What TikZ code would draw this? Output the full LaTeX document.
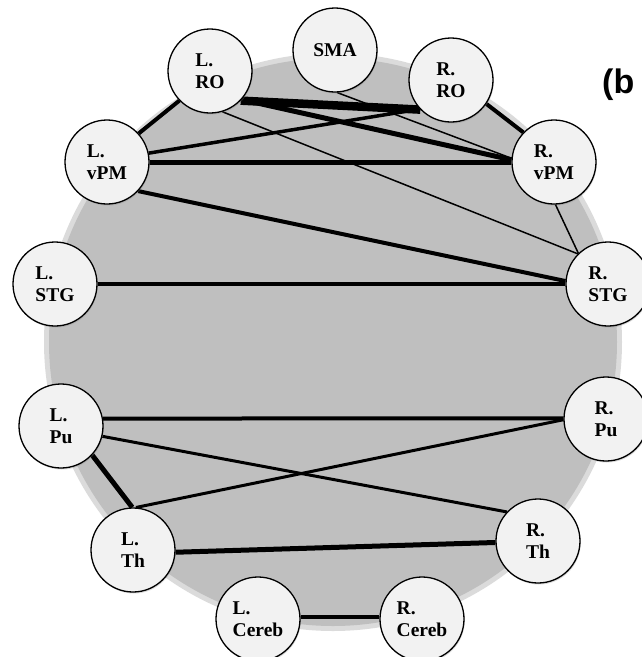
\documentclass[tikz,border=0pt]{standalone}
\usepackage{fontspec}
\setmainfont{Liberation Serif}
\newfontfamily\labelsans{Liberation Sans}
\usetikzlibrary{shadows,backgrounds}
\definecolor{discgray}{gray}{0.75}
\definecolor{rimgray}{gray}{0.86}
\definecolor{nodefill}{gray}{0.95}
\begin{document}
\begin{tikzpicture}[x=1pt,y=-1pt,
  region/.style={circle, draw=black, line width=1.3pt, fill=nodefill,
    minimum size=84pt, inner sep=0pt, align=left,
    font=\fontsize{19.5}{22}\selectfont\bfseries,
    drop shadow={opacity=0.3, shadow xshift=0.8pt, shadow yshift=-1.5pt}},
  conn/.style={draw=black, line cap=butt},
  hairline/.style={conn, line width=1.5pt},
  midline/.style={conn, line width=3.5pt},
  heavyline/.style={conn, line width=5pt},
  boldbar/.style={conn, line width=8.5pt}]
\useasboundingbox (0,0) rectangle (642,657);
\clip (0,0) rectangle (642,657);

% nodes
\node[region] (LRO) at (210,71) {L.\\RO};
\node[region] (SMA) at (335,50) {SMA};
\node[region] (RRO) at (451,80) {R.\\RO};
\node[region] (RvPM) at (554,162) {R.\\vPM};
\node[region] (LvPM) at (107,162) {L.\\vPM};
\node[region] (LSTG) at (55,284) {L.\\STG};
\node[region] (RSTG) at (608,284) {R.\\STG};
\node[region] (LPu) at (61,426) {L.\\Pu};
\node[region] (RPu) at (606,419) {R.\\Pu};
\node[region] (LTh) at (133,550) {L.\\Th};
\node[region] (RTh) at (538,541) {R.\\Th};
\node[region] (LCereb) at (258,619) {L.\\Cereb};
\node[region] (RCereb) at (422,619) {R.\\Cereb};

\node[font=\labelsans\fontsize{34}{34}\selectfont\bfseries, anchor=base west, inner sep=0pt] (panel) at (602,93) {(b};

\begin{scope}[on background layer]
  \fill[rimgray] (333,342) circle[radius=289];
  \fill[discgray] (333,342) circle[radius=284];

  \draw[boldbar] (LRO.-44) -- (RRO.224);
  \draw[heavyline] (LRO.-42) -- (RvPM.177);
  \draw[midline] (LvPM.12) -- (RRO.223);
  \draw[heavyline] (LvPM.0) -- (RvPM.180);
  \draw[conn, line width=4pt] (LvPM.-43) -- (RSTG.176);
  \draw[hairline] (LRO.-73) -- (RSTG.135);
  \draw[hairline] (SMA.-87) -- (RvPM.175);
  \draw[conn, line width=4pt] (RRO.-34) -- (RvPM.136);
  \draw[conn, line width=4pt] (LRO.224) -- (LvPM.42);
  \draw[hairline] (RvPM.-88) -- (RSTG.134);
  \draw[midline] (LSTG.0) -- (RSTG.180);
  \draw[conn, line width=4pt] (LPu.10) -- (RPu.179);
  \draw[conn, line width=3pt] (LPu.-14) -- (RTh.137);
  \draw[conn, line width=3pt] (LTh.86) -- (RPu.181);
  \draw[heavyline] (LPu.-43) -- (LTh.91);
  \draw[heavyline] (LTh.-3) -- (RTh.182);
  \draw[midline] (LCereb.3) -- (RCereb.177);
\end{scope}
\end{tikzpicture}
\end{document}
